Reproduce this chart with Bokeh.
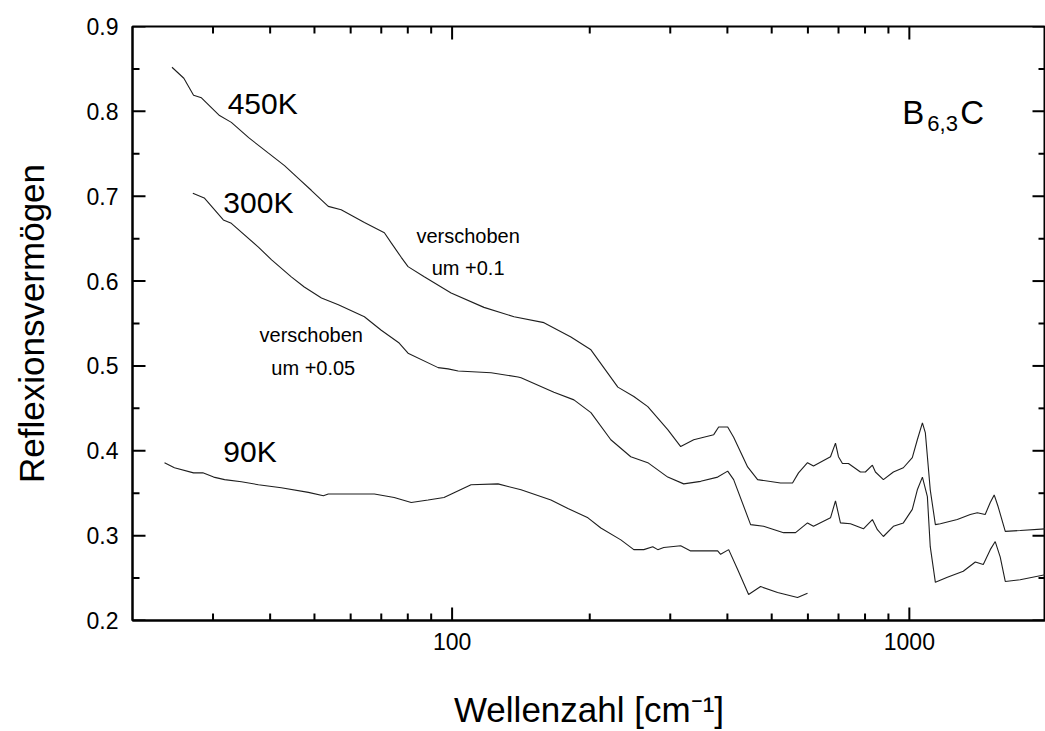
from bokeh.plotting import figure
from bokeh.models import Range1d, FixedTicker, PrintfTickFormatter, Label
from bokeh.embed import file_html
from bokeh.resources import INLINE

# Reflectivity spectra of B6.3C (wavenumber in cm^-1, reflectivity)
wn_450 = [24.4, 25.9, 27.2, 28.3, 31.0, 32.9, 35.9, 39.6, 43.0, 46.1, 49.2, 53.6,
          57.2, 64.3, 71.1, 73.6, 77.4, 80.1, 86.9, 99.5, 117.4, 136.6, 158.8,
          181.9, 201.2, 230.4, 249.7, 267.9, 296.2, 316.2, 337.6, 373.4, 382.8,
          400.6, 412.8, 442.9, 465.7, 522.8, 555.3, 572.3, 598.8, 617.1, 672.3,
          689.4, 699.8, 714.0, 735.9, 781.6, 801.4, 830.2, 843.0, 877.5, 922.7,
          970.3, 1015, 1041, 1068, 1084, 1111, 1140, 1169, 1273, 1359, 1408, 1465,
          1503, 1533, 1564, 1621, 1747, 1982]
r_450 = [0.852, 0.839, 0.819, 0.816, 0.795, 0.787, 0.769, 0.751, 0.736, 0.721,
         0.707, 0.688, 0.684, 0.669, 0.657, 0.645, 0.628, 0.617, 0.605, 0.586,
         0.569, 0.558, 0.551, 0.534, 0.519, 0.475, 0.464, 0.452, 0.425, 0.405,
         0.413, 0.419, 0.428, 0.428, 0.416, 0.381, 0.366, 0.362, 0.362, 0.374,
         0.386, 0.382, 0.393, 0.409, 0.393, 0.385, 0.385, 0.375, 0.375, 0.383,
         0.375, 0.366, 0.375, 0.380, 0.392, 0.413, 0.433, 0.421, 0.354, 0.313,
         0.314, 0.319, 0.325, 0.327, 0.325, 0.339, 0.348, 0.334, 0.305, 0.306,
         0.308]

wn_300 = [27.1, 28.7, 31.6, 32.9, 37.7, 40.3, 44.5, 47.5, 51.8, 56.4, 64.3, 70.0,
          76.6, 80.1, 93.2, 98.0, 103.1, 121.7, 139.4, 141.5, 167.0, 184.7, 201.2,
          222.4, 245.9, 267.9, 296.2, 321.0, 349.7, 380.9, 400.6, 412.8, 449.6,
          479.9, 530.8, 563.8, 598.8, 617.1, 672.3, 689.4, 706.8, 743.4, 793.5,
          830.2, 851.4, 877.5, 922.7, 970.3, 1015, 1041, 1068, 1095, 1111, 1140,
          1211, 1312, 1394, 1451, 1503, 1541, 1580, 1621, 1747, 1982]
r_300 = [0.7035, 0.698, 0.672, 0.668, 0.640, 0.625, 0.605, 0.593, 0.580, 0.572,
         0.558, 0.542, 0.527, 0.515, 0.498, 0.4965, 0.494, 0.492, 0.487, 0.486,
         0.469, 0.460, 0.445, 0.413, 0.393, 0.386, 0.369, 0.361, 0.364, 0.369,
         0.376, 0.366, 0.313, 0.311, 0.3035, 0.3035, 0.315, 0.311, 0.321, 0.341,
         0.315, 0.314, 0.308, 0.319, 0.307, 0.299, 0.311, 0.315, 0.331, 0.354,
         0.369, 0.346, 0.287, 0.245, 0.251, 0.258, 0.269, 0.266, 0.2835, 0.293,
         0.275, 0.246, 0.248, 0.254]

wn_90 = [23.5, 24.7, 27.2, 28.5, 30.1, 31.8, 34.6, 37.7, 42.3, 48.5, 52.3, 53.6,
         67.6, 74.7, 81.4, 88.6, 96.0, 110.0, 126.0, 141.5, 164.5, 179.2, 198.2,
         211.5, 233.9, 249.7, 262.6, 274.7, 281.7, 290.3, 316.2, 332.5, 380.9,
         386.6, 402.6, 421.2, 445.1, 472.8, 515.0, 569.5, 598.8]
r_90 = [0.386, 0.380, 0.374, 0.374, 0.369, 0.366, 0.3635, 0.360, 0.3565, 0.351,
        0.347, 0.349, 0.349, 0.345, 0.339, 0.342, 0.345, 0.360, 0.361, 0.354,
        0.342, 0.332, 0.321, 0.309, 0.295, 0.2835, 0.2835, 0.287, 0.2835, 0.286,
        0.288, 0.282, 0.282, 0.278, 0.2835, 0.260, 0.2306, 0.240, 0.233, 0.227,
        0.232]

x_major = [100, 1000]
x_minor = [30, 40, 50, 60, 70, 80, 90, 200, 300, 400, 500, 600, 700, 800, 900]
y_major = [0.2, 0.3, 0.4, 0.5, 0.6, 0.7, 0.8, 0.9]
y_minor = [0.25, 0.35, 0.45, 0.55, 0.65, 0.75, 0.85]

X_LO, X_HI = 20, 1985
Y_LO, Y_HI = 0.2, 0.9

FONT = "Liberation Sans"
MAJOR_LEN, MINOR_LEN = 13, 7

p = figure(width=1045, height=731, x_axis_type="log",
           x_range=Range1d(X_LO, X_HI), y_range=Range1d(Y_LO, Y_HI),
           output_backend="svg", toolbar_location=None,
           min_border_left=132, min_border_right=0,
           min_border_top=26, min_border_bottom=110)
p.xgrid.visible = False
p.ygrid.visible = False
p.background_fill_color = "white"
p.border_fill_color = "white"
p.outline_line_color = "black"
p.outline_line_width = 2

for ax in (p.xaxis[0], p.yaxis[0]):
    ax.axis_line_width = 2
    ax.major_tick_in = 0
    ax.major_tick_out = 0
    ax.minor_tick_in = 0
    ax.minor_tick_out = 0
    ax.major_tick_line_color = None
    ax.minor_tick_line_color = None
    ax.major_label_text_font = FONT
    ax.major_label_text_font_size = "23px"
    ax.major_label_text_color = "black"
    ax.axis_label_text_font = FONT
    ax.axis_label_text_font_style = "normal"
    ax.axis_label_text_color = "black"

xa = p.xaxis[0]
xa.ticker = FixedTicker(ticks=x_major, minor_ticks=x_minor)
xa.formatter = PrintfTickFormatter(format="%d")
xa.major_label_standoff = 12
xa.axis_label = "Wellenzahl [cm⁻¹]"
xa.axis_label_text_font_size = "35px"
xa.axis_label_standoff = 37

ya = p.yaxis[0]
ya.ticker = FixedTicker(ticks=y_major, minor_ticks=y_minor)
ya.formatter = PrintfTickFormatter(format="%.1f")
ya.major_label_standoff = 14
ya.axis_label = "Reflexionsvermögen"
ya.axis_label_text_font_size = "35px"
ya.axis_label_standoff = 33

line_color = "#1e1e1e"
p.line(wn_450, r_450, line_color=line_color, line_width=1.1)
p.line(wn_300, r_300, line_color=line_color, line_width=1.1)
p.line(wn_90, r_90, line_color=line_color, line_width=1.1)

# inward tick marks as thin filled bars centred on each frame edge;
# the half outside the frame is clipped away
TICK = dict(fill_color="black", line_color=None,
            width_units="screen", height_units="screen")
for ticks, size in ((x_major, MAJOR_LEN), (x_minor, MINOR_LEN)):
    n = len(ticks)
    p.rect(x=ticks, y=[Y_LO] * n, width=2, height=2 * size, **TICK)
    p.rect(x=ticks, y=[Y_HI] * n, width=2, height=2 * size, **TICK)
for ticks, size in ((y_major, MAJOR_LEN), (y_minor, MINOR_LEN)):
    n = len(ticks)
    p.rect(x=[X_LO] * n, y=ticks, width=2 * size, height=2, **TICK)
    p.rect(x=[X_HI] * n, y=ticks, width=2 * size, height=2, **TICK)


def add_text(x, y, text, size, align="left"):
    p.add_layout(Label(x=x, y=y, text=text, text_font=FONT,
                       text_font_size=size, text_color="black",
                       text_align=align, text_baseline="alphabetic"))


# temperature labels
add_text(32.3, 0.809, "450K", "30px")
add_text(31.6, 0.693, "300K", "30px")
add_text(31.6, 0.399, "90K", "30px")

# offset notes
add_text(108.4, 0.653, "verschoben", "20px", "center")
add_text(108.4, 0.6153, "um +0.1", "20px", "center")
add_text(49.2, 0.5365, "verschoben", "20px", "center")
add_text(49.7, 0.4976, "um +0.05", "20px", "center")

# sample name B6,3C
add_text(965.4, 0.7988, "B", "33px")
add_text(1095, 0.7859, "6,3", "22px")
add_text(1292, 0.7988, "C", "33px")

open("out.html", "w").write(file_html(p, INLINE))
